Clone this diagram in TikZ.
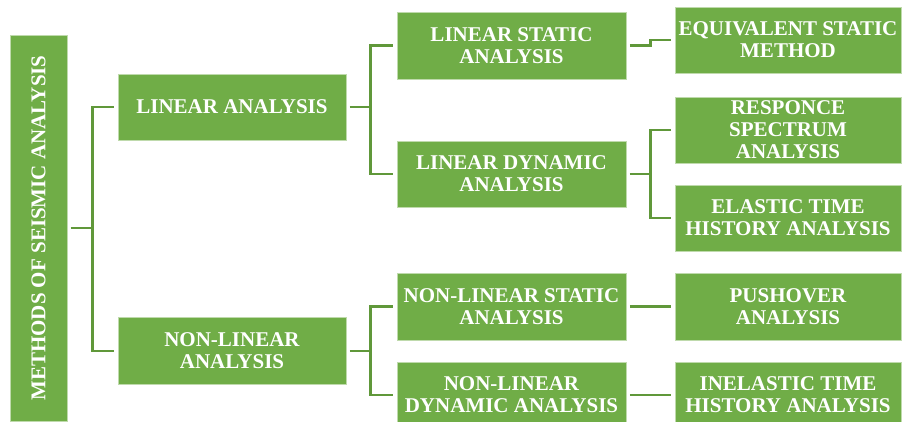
\documentclass[tikz,border=0pt]{standalone}
\usepackage{fontspec}
\setmainfont{Liberation Serif}
\definecolor{boxgreen}{HTML}{70AD47}
\definecolor{linegreen}{RGB}{96,152,58}
\begin{document}
\begin{tikzpicture}[x=1pt,y=-1pt,
  box/.style={rectangle, fill=boxgreen, draw=white!55!boxgreen, line width=0.8pt,
    inner sep=0pt, align=center, text=white,
    font=\fontsize{21}{22}\selectfont\bfseries},
  conn/.style={draw=linegreen, line width=2.6pt, shorten <=3.5pt, shorten >=3.5pt}]
\useasboundingbox (0,0) rectangle (903,422);
% root
\node[box, minimum width=57pt, minimum height=386pt] (root) at (38.5,228) {};
\node[rotate=90, text=white, font=\fontsize{21}{22}\selectfont\bfseries] (roottext) at (root.center) {METHODS OF SEISMIC ANALYSIS};
% level 1
\node[box, minimum width=228pt, minimum height=66pt] (la) at (232,107) {LINEAR ANALYSIS};
\node[box, minimum width=228pt, minimum height=67pt] (nla) at (232,351) {NON-LINEAR\\ANALYSIS};
% level 2
\node[box, minimum width=229pt, minimum height=67pt] (lsa) at (511.5,45.5) {LINEAR STATIC\\ANALYSIS};
\node[box, minimum width=229pt, minimum height=66pt] (lda) at (511.5,174) {LINEAR DYNAMIC\\ANALYSIS};
\node[box, minimum width=229pt, minimum height=67pt] (nlsa) at (511.5,306.5) {NON-LINEAR STATIC\\ANALYSIS};
\node[box, minimum width=229pt, minimum height=66pt] (nlda) at (511.5,395) {NON-LINEAR\\DYNAMIC ANALYSIS};
% level 3
\node[box, minimum width=226pt, minimum height=66pt] (esm) at (788,40) {EQUIVALENT STATIC\\METHOD};
\node[box, minimum width=226pt, minimum height=66pt] (rsa) at (788,130) {RESPONCE\\SPECTRUM\\ANALYSIS};
\node[box, minimum width=226pt, minimum height=66pt] (eth) at (788,218) {ELASTIC TIME\\HISTORY ANALYSIS};
\node[box, minimum width=226pt, minimum height=67pt] (push) at (788,306.5) {PUSHOVER\\ANALYSIS};
\node[box, minimum width=226pt, minimum height=66pt] (ineth) at (788,395) {INELASTIC TIME\\HISTORY ANALYSIS};
% connectors
\draw[conn] (root.east) -- ++(25,0) |- (la.west);
\draw[conn] (root.east) -- ++(25,0) |- (nla.west);
\draw[conn] (la.east) -- ++(24,0) |- (lsa.west);
\draw[conn] (la.east) -- ++(24,0) |- (lda.west);
\draw[conn] (nla.east) -- ++(24,0) |- (nlsa.west);
\draw[conn] (nla.east) -- ++(24,0) |- (nlda.west);
\draw[conn] (lsa.east) -- ++(24,0) |- (esm.west);
\draw[conn] (lda.east) -- ++(24,0) |- (rsa.west);
\draw[conn] (lda.east) -- ++(24,0) |- (eth.west);
\draw[conn] (nlsa.east) -- (push.west);
\draw[conn] (nlda.east) -- (ineth.west);
\end{tikzpicture}
\end{document}
